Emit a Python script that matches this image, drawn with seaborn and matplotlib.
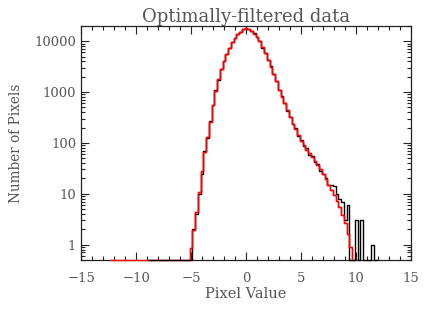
import numpy as np
import matplotlib
matplotlib.use("Agg")
import matplotlib.pyplot as plt
import matplotlib.ticker as mticker
import seaborn as sns

# Histogram data (bin width 0.25, bins centred on multiples of 0.25)
bin_width = 0.25

# Model histogram (red): bins centred from -12.25 to 9.75
model_start = -12.25
model_counts = [
    0, 0, 0, 0, 0, 0, 0, 0, 0, 0, 0, 0, 0, 0,          # -12.25 .. -9.0
    0, 0, 0, 0, 0, 0, 0, 0, 0, 0, 0, 0, 0, 0, 0,       # -8.75 .. -5.25
    0.85, 1.9, 4.3, 11, 28, 66, 132, 263, 560, 1050,   # -5.0 .. -2.75
    1780, 2820, 4170, 5620, 7400, 9550, 11750, 13800, 15500, 17000,  # -2.5 .. -0.25
    17800, 17000, 15850, 14100, 12300, 10000, 7600, 5750, 4270, 3160,  # 0.0 .. 2.25
    2290, 1620, 1120, 810, 600, 440, 316, 240, 186, 141,  # 2.5 .. 4.75
    107, 89, 74, 62, 52, 44, 37, 30, 24.5, 19.5,        # 5.0 .. 7.25
    15, 11.7, 9.3, 7.1, 5.4, 3.8, 2.6, 1.6, 0.9, 0.4,   # 7.5 .. 9.75
]

# Data histogram (black): bins centred from -8.75 to 11.75
data_start = -8.75
data_counts = [
    0, 0, 0, 0, 0, 0, 0, 0, 0, 0, 0, 0, 0, 0, 0,       # -8.75 .. -5.25
    0, 2, 4, 10, 24, 70, 125, 270, 545, 1080,          # -5.0 .. -2.75
    1760, 2870, 4120, 5700, 7350, 9620, 11680, 13900, 15420, 17100,  # -2.5 .. -0.25
    17650, 17200, 15700, 14250, 12150, 10150, 7500, 5850, 4200, 3230,  # 0.0 .. 2.25
    2250, 1660, 1090, 830, 610, 425, 330, 232, 195, 138,  # 2.5 .. 4.75
    112, 86, 78, 58, 55, 42, 39, 28, 24, 20,            # 5.0 .. 7.25
    15, 15, 14, 10, 8, 7, 3, 6, 0, 0,                   # 7.5 .. 9.75
    3, 0, 3, 0, 0, 0, 1, 0,                             # 10.0 .. 11.75
]

y_floor = 0.5
y_top = 2.0e4

sns.set_theme(style="ticks")
plt.rcParams["font.family"] = ["DejaVu Serif"]
text_color = "#555555"

fig = plt.figure(figsize=(4.36, 3.12), dpi=100)
ax = fig.add_axes([0.186, 0.167, 0.757, 0.750])


def draw_hist(start, counts, color, z, floor=True):
    counts = np.asarray(counts, dtype=float)
    centers = start + bin_width * np.arange(len(counts))
    lo = centers[0] - bin_width / 2
    hi = centers[-1] + bin_width / 2
    # with floor=True, values below the plot floor are drawn along the bottom axis
    shown = np.clip(counts, y_floor, None) if floor else counts
    sns.histplot(x=centers, weights=shown, binwidth=bin_width, binrange=(lo, hi),
                 element="step", fill=False, color=color, linewidth=1.0,
                 ax=ax, zorder=z, clip_on=not floor)


# model under the data along the floor, data, then model on top of the data
draw_hist(model_start, model_counts, "#ff0000", 3)
draw_hist(data_start, data_counts, "black", 3.5)
draw_hist(model_start, model_counts, "#ff0000", 4, floor=False)

ax.set_yscale("log")
ax.set_xlim(-15, 15)
ax.set_ylim(y_floor, y_top)

ax.xaxis.set_major_locator(mticker.MultipleLocator(5))
ax.xaxis.set_minor_locator(mticker.MultipleLocator(1))
ax.yaxis.set_major_locator(mticker.FixedLocator([1, 10, 100, 1000, 10000]))
ax.yaxis.set_major_formatter(mticker.FuncFormatter(lambda v, p: "%d" % v))
ax.yaxis.set_minor_locator(mticker.LogLocator(base=10, subs=np.arange(2, 10)))
ax.yaxis.set_minor_formatter(mticker.NullFormatter())

ax.tick_params(which="both", direction="in", top=True, right=True,
               colors="#222222", labelcolor=text_color, labelsize=9.5)
ax.tick_params(which="major", length=6, width=0.8)
ax.tick_params(which="minor", length=3, width=0.8)
ax.tick_params(axis="x", pad=9)
for sp in ax.spines.values():
    sp.set_color("#222222")
    sp.set_linewidth(0.9)

ax.set_title("Optimally-filtered data", fontsize=13, color=text_color, pad=3)
ax.set_xlabel("Pixel Value", fontsize=10.5, color=text_color, labelpad=1)
ax.set_ylabel("Number of Pixels", fontsize=9.8, color=text_color, labelpad=8)

fig.savefig("out.png", dpi=100)
